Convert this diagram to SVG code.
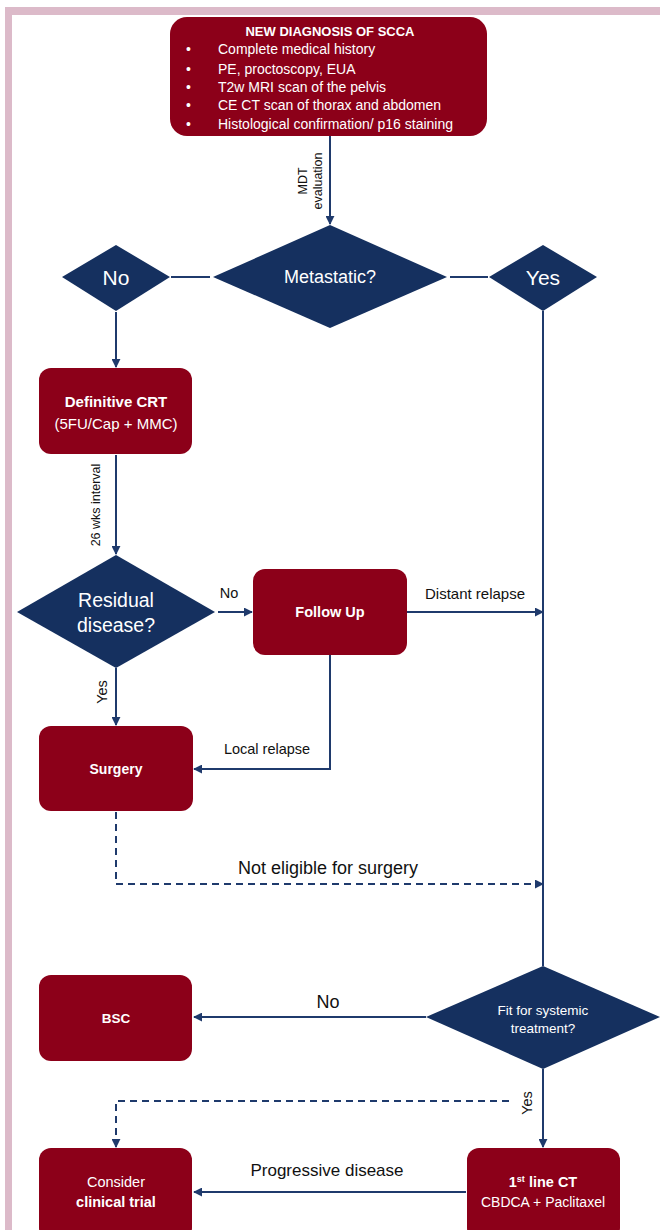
<svg xmlns="http://www.w3.org/2000/svg" width="660" height="1230" viewBox="0 0 660 1230">
<defs>
<style>
.box{fill:#8c0019;}
.dia{fill:#15305f;}
.ln{stroke:#1f3a6c;stroke-width:2;fill:none;}
.dash{stroke-dasharray:7 5;}
.wt{fill:#ffffff;font-family:"Liberation Sans",Arial,sans-serif;}
.bt{fill:#111111;font-family:"Liberation Sans",Arial,sans-serif;}
.b{font-weight:bold;}
</style>
<marker id="ah" viewBox="0 0 10 10" refX="9" refY="5" markerWidth="9" markerHeight="9" markerUnits="userSpaceOnUse" orient="auto">
<path d="M0,0 L10,5 L0,10 z" fill="#1f3a6c"/>
</marker>
</defs>
<rect x="0" y="0" width="660" height="1230" fill="#ffffff"/>
<rect x="5" y="7" width="700" height="1300" fill="#dcbac9"/>
<rect x="12" y="15" width="700" height="1300" fill="#ffffff"/>

<g id="connectors">
<path class="ln" d="M330,136 V224" marker-end="url(#ah)"/>
<path class="ln" d="M171,277 H210"/>
<path class="ln" d="M450,277 H488"/>
<path class="ln" d="M116,312 V367" marker-end="url(#ah)"/>
<path class="ln" d="M116,455 V554" marker-end="url(#ah)"/>
<path class="ln" d="M218,612 H252" marker-end="url(#ah)"/>
<path class="ln" d="M407,612 H543" marker-end="url(#ah)"/>
<path class="ln" d="M543,311 V966"/>
<path class="ln" d="M330,655 V769 H194" marker-end="url(#ah)"/>
<path class="ln" d="M116,668 V725" marker-end="url(#ah)"/>
<path class="ln dash" d="M116,812 V884 H543" marker-end="url(#ah)"/>
<path class="ln" d="M426,1017 H194" marker-end="url(#ah)"/>
<path class="ln" d="M543,1069 V1147" marker-end="url(#ah)"/>
<path class="ln dash" d="M509,1101 H116 V1147" marker-end="url(#ah)"/>
<path class="ln" d="M466,1192 H194" marker-end="url(#ah)"/>
<text class="bt" font-size="12.5" text-anchor="middle" transform="translate(307,181) rotate(-90)">MDT</text>
<text class="bt" font-size="12.5" text-anchor="middle" transform="translate(322,181) rotate(-90)">evaluation</text>
<text class="bt" font-size="12.5" text-anchor="middle" transform="translate(100,505) rotate(-90)">26 wks interval</text>
<text class="bt" font-size="14.5" text-anchor="middle" x="229" y="598">No</text>
<text class="bt" font-size="15" text-anchor="middle" x="475" y="599">Distant relapse</text>
<text class="bt" font-size="14.5" text-anchor="middle" transform="translate(107,692) rotate(-90)">Yes</text>
<text class="bt" font-size="14.5" text-anchor="middle" x="267" y="754">Local relapse</text>
<text class="bt" font-size="18" text-anchor="middle" x="328" y="874">Not eligible for surgery</text>
<text class="bt" font-size="18" text-anchor="middle" x="328" y="1008">No</text>
<text class="bt" font-size="14.5" text-anchor="middle" transform="translate(532,1103) rotate(-90)">Yes</text>
<text class="bt" font-size="17" text-anchor="middle" x="327" y="1176">Progressive disease</text>
</g>

<g id="new-diagnosis">
<rect class="box" x="170" y="17" width="317" height="119" rx="17"/>
<text class="wt b" font-size="13" text-anchor="middle" x="330" y="36">NEW DIAGNOSIS OF SCCA</text>
<g class="wt" font-size="14">
<text x="186" y="54">•</text><text x="218" y="54">Complete medical history</text>
<text x="186" y="74">•</text><text x="218" y="74">PE, proctoscopy, EUA</text>
<text x="186" y="92">•</text><text x="218" y="92">T2w MRI scan of the pelvis</text>
<text x="186" y="110">•</text><text x="218" y="110">CE CT scan of thorax and abdomen</text>
<text x="186" y="129">•</text><text x="218" y="129">Histological confirmation/ p16 staining</text>
</g>
</g>

<g id="metastatic">
<polygon class="dia" points="330,225 447,277 330,328 213,277"/>
<text class="wt" font-size="18" text-anchor="middle" x="330" y="283">Metastatic?</text>
</g>

<g id="no-dia">
<polygon class="dia" points="116,245 170,277 116,311 62,277"/>
<text class="wt" font-size="21" text-anchor="middle" x="116" y="285">No</text>
</g>

<g id="yes-dia">
<polygon class="dia" points="543,245 597,277 543,311 489,277"/>
<text class="wt" font-size="21" text-anchor="middle" x="543" y="285">Yes</text>
</g>

<g id="crt">
<rect class="box" x="39" y="368" width="153" height="86" rx="12"/>
<text class="wt b" font-size="15" text-anchor="middle" x="116" y="407">Definitive CRT</text>
<text class="wt" font-size="15" text-anchor="middle" x="116" y="429">(5FU/Cap + MMC)</text>
</g>

<g id="residual">
<polygon class="dia" points="116,555 215,612 116,668 17,612"/>
<text class="wt" font-size="19.5" text-anchor="middle" x="116" y="607">Residual</text>
<text class="wt" font-size="19.5" text-anchor="middle" x="116" y="632">disease?</text>
</g>

<g id="follow-up">
<rect class="box" x="253" y="569" width="154" height="86" rx="12"/>
<text class="wt b" font-size="14.5" text-anchor="middle" x="330" y="617">Follow Up</text>
</g>

<g id="surgery">
<rect class="box" x="39" y="726" width="154" height="85" rx="12"/>
<text class="wt b" font-size="14" text-anchor="middle" x="116" y="774">Surgery</text>
</g>

<g id="fit">
<polygon class="dia" points="543,966 660,1017 543,1069 426,1017"/>
<text class="wt" font-size="13.5" text-anchor="middle" x="543" y="1015">Fit for systemic</text>
<text class="wt" font-size="13.5" text-anchor="middle" x="543" y="1033">treatment?</text>
</g>

<g id="bsc">
<rect class="box" x="39" y="975" width="153" height="86" rx="12"/>
<text class="wt b" font-size="13.5" text-anchor="middle" x="116" y="1023">BSC</text>
</g>

<g id="clinical-trial">
<rect class="box" x="39" y="1148" width="153" height="92" rx="12"/>
<text class="wt" font-size="14.5" text-anchor="middle" x="116" y="1187">Consider</text>
<text class="wt b" font-size="14.5" text-anchor="middle" x="116" y="1207">clinical trial</text>
</g>

<g id="first-line">
<rect class="box" x="467" y="1148" width="153" height="92" rx="12"/>
<text class="wt b" font-size="14.5" text-anchor="middle" x="543" y="1187">1<tspan font-size="9" dy="-5">st</tspan><tspan dy="5"> line CT</tspan></text>
<text class="wt" font-size="14" text-anchor="middle" x="543" y="1207">CBDCA + Paclitaxel</text>
</g>
</svg>
